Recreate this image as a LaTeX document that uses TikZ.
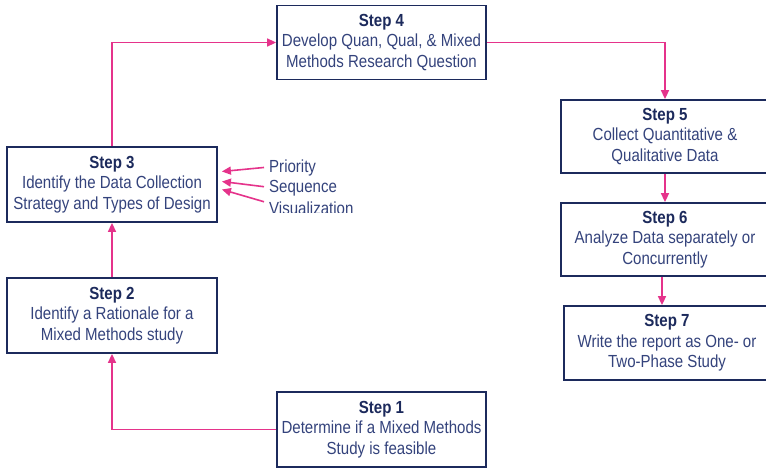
\documentclass[tikz,border=0pt]{standalone}
\usepackage{fontspec}
\setmainfont{Liberation Sans}[FakeStretch=0.86]
\usetikzlibrary{arrows.meta,calc}
\definecolor{navy}{HTML}{1C2A5C}
\definecolor{txtblue}{HTML}{34437C}
\definecolor{pink}{HTML}{E5338B}
\tikzset{
  stepbox/.style={draw=navy, line width=1.8pt, fill=white, align=center,
    inner sep=0pt, text=txtblue, font=\fontsize{17.5}{20.5}\selectfont},
  conn/.style={draw=pink, line width=1.6pt, -{Triangle[length=9pt,width=8pt]}},
  lbl/.style={anchor=base west, inner sep=0pt, text=txtblue, font=\fontsize{17.5}{20}\selectfont}
}
\newcommand{\stitle}[1]{{\bfseries\color{navy}#1}}
\begin{document}
\begin{tikzpicture}[x=1pt,y=-1pt]
\useasboundingbox (0,0) rectangle (766,468);
\fill[white] (0,0) rectangle (766,468);
\node[stepbox, minimum width=209pt, minimum height=74pt] (s4) at (381.5,42.5)
  {\stitle{Step 4}\\Develop Quan, Qual, \& Mixed\\Methods Research Question};
\node[stepbox, minimum width=208pt, minimum height=73pt] (s5) at (665,136.5)
  {\stitle{Step 5}\\Collect Quantitative \&\\Qualitative Data};
\node[stepbox, minimum width=208pt, minimum height=73pt] (s6) at (665,239.5)
  {\stitle{Step 6}\\Analyze Data separately or\\Concurrently};
\node[stepbox, minimum width=206pt, minimum height=74pt] (s7) at (667,343)
  {\stitle{Step 7}\\Write the report as One- or\\Two-Phase Study};
\node[stepbox, minimum width=210pt, minimum height=75pt] (s3) at (112,184.5)
  {\stitle{Step 3}\\Identify the Data Collection\\Strategy and Types of Design};
\node[stepbox, minimum width=210pt, minimum height=75pt] (s2) at (112,315.5)
  {\stitle{Step 2}\\Identify a Rationale for a\\Mixed Methods study};
\node[stepbox, minimum width=209pt, minimum height=75pt] (s1) at (381.5,429.5)
  {\stitle{Step 1}\\Determine if a Mixed Methods\\Study is feasible};

\node[lbl] (pr) at (269,173) {Priority};
\node[lbl] (se) at (269,193) {Sequence};
\begin{scope}
  \clip (250,196) rectangle (420,212);
  \node[lbl] (vi) at (269,214) {Visualization};
\end{scope}

\draw[conn] (s1.west) -| (s2.south);
\draw[conn] (s2.north) -- (s3.south);
\draw[conn] (s3.north) |- (s4.west);
\draw[conn] (s4.east) -| (s5.north);
\draw[conn] (s5.south) -- (s6.north);
\draw[conn] ([xshift=-3pt]s6.south) -- ([xshift=-3pt]s6.south |- s7.north);
\draw[conn] ($(pr.west)+(-5,-1)$) -- ($(s3.east)+(4,-13)$);
\draw[conn] ($(se.west)+(-5,-2)$) -- ($(s3.east)+(4,-3)$);
\draw[conn] ($(vi.west)+(-5,-6)$) -- ($(s3.east)+(4,5)$);
\end{tikzpicture}
\end{document}
